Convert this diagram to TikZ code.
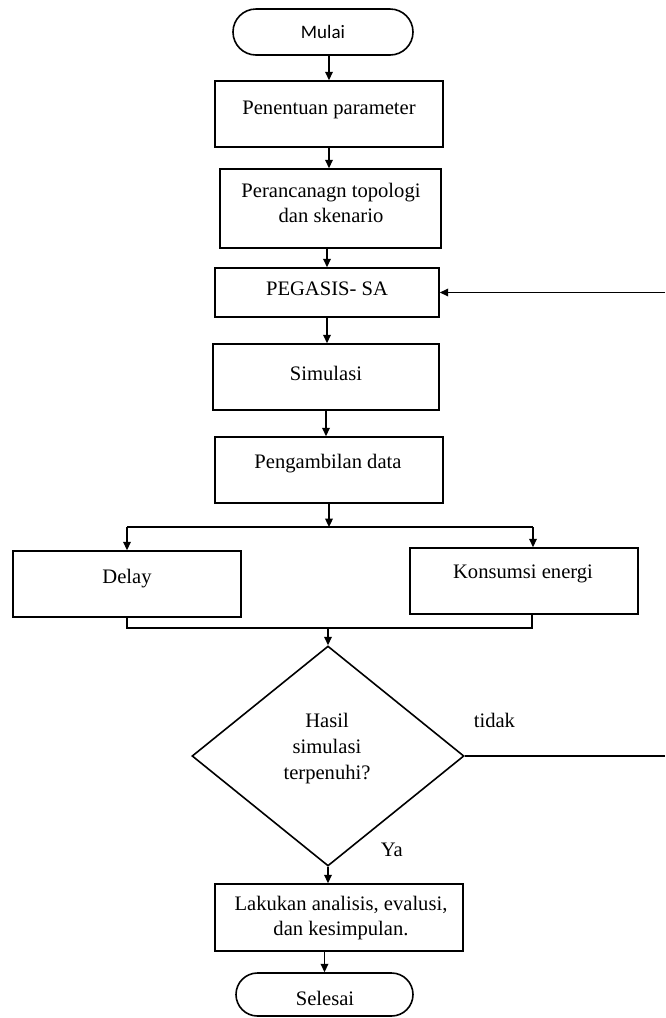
\documentclass[tikz,border=0pt]{standalone}
\usepackage{fontspec}
\setmainfont{Liberation Serif}
\newfontfamily\calibrifont{Carlito}
\usetikzlibrary{arrows.meta,shapes.misc,shapes.geometric,calc}
\begin{document}
\begin{tikzpicture}[x=0.5pt,y=-0.5pt, line width=0.8pt,
  box/.style={draw, rectangle, inner sep=0pt},
  term/.style={draw, rounded rectangle, inner sep=0pt},
  decision/.style={draw, diamond, inner sep=0pt},
  txt/.style={font=\fontsize{10.3}{12.5}\selectfont, align=center, inner sep=0pt},
  arr/.style={-{Triangle[length=4.2pt,width=3.8pt]}}]
\useasboundingbox (0,0) rectangle (665,1018);

% shapes
\node[term, minimum width=90pt, minimum height=23pt,
      font=\calibrifont\fontsize{9.5}{11}\selectfont] (mulai) at (323,32) {Mulai};
\node[box, minimum width=114pt, minimum height=33pt] (box1) at (329,114) {};
\node[box, minimum width=110.5pt, minimum height=39.5pt] (box2) at (330.5,208.5) {};
\node[box, minimum width=112pt, minimum height=24.5pt] (box3) at (327,292.5) {};
\node[box, minimum width=113pt, minimum height=33pt] (box4) at (326,377) {};
\node[box, minimum width=114pt, minimum height=33pt] (box5) at (329,470) {};
\node[box, minimum width=114pt, minimum height=33pt] (delay) at (127,584) {};
\node[box, minimum width=114pt, minimum height=33pt] (kons) at (524,581) {};
\node[decision, minimum width=136pt, minimum height=110pt] (dia) at (328,756) {};
\node[box, minimum width=124pt, minimum height=33.5pt] (final) at (339,917.5) {};
\node[term, minimum width=88.5pt, minimum height=21.5pt] (selesai) at (324.5,994.5) {};

% texts
\node[txt] (t1) at (329,110) {Penentuan parameter};
\node[txt] (t2) at (331,203) {Perancanagn topologi\\dan skenario};
\node[txt] (t3) at (327,289) {PEGASIS- SA};
\node[txt] (t4) at (326,373) {Simulasi};
\node[txt] (t5) at (328,464) {Pengambilan data};
\node[txt] (t6) at (127,579) {Delay};
\node[txt] (t7) at (523,574) {Konsumsi energi};
\node[txt, font=\fontsize{10.3}{13}\selectfont] (t8) at (327,749) {Hasil\\simulasi\\terpenuhi?};
\node[txt, anchor=west] (tidak) at (473,720) {tidak};
\node[txt, anchor=west] (ya) at (380,850) {Ya};
\node[txt] (t9) at (341,918) {Lakukan analisis, evalusi,\\dan kesimpulan.};
\node[txt] (t10) at (325,998) {Selesai};

% helper coordinates
\coordinate (sl) at (127,527);
\coordinate (sr) at (533,527);
\coordinate (ml) at (127,628);
\coordinate (mr) at (532,628);
\coordinate (fr) at (665,756);
\coordinate (fb) at (665,292.5);

% connectors
\draw[arr] (box1.north |- mulai.south) -- (box1.north);
\draw[arr] (box1.south) -- (box1.south |- box2.north);
\draw[arr] (box3.north |- box2.south) -- (box3.north);
\draw[arr] (box3.south) -- (box3.south |- box4.north);
\draw[arr] (box4.south) -- (box4.south |- box5.north);
\draw[arr] (box5.south) -- (box5.south |- sl);
\draw (sl) -- (sr);
\draw[arr] (sl) -- (sl |- delay.north);
\draw[arr] (sr) -- (sr |- kons.north);
\draw (delay.south) -- (ml) -- (mr) -- (mr |- kons.south);
\draw[arr] (dia.north |- ml) -- (dia.north);
\draw (dia.east) -- (fr);
\draw[arr] (fb) -- (box3.east);
\draw[arr] (dia.south) -- (dia.south |- final.north);
\draw[arr] (selesai.north |- final.south) -- (selesai.north);
\end{tikzpicture}
\end{document}
